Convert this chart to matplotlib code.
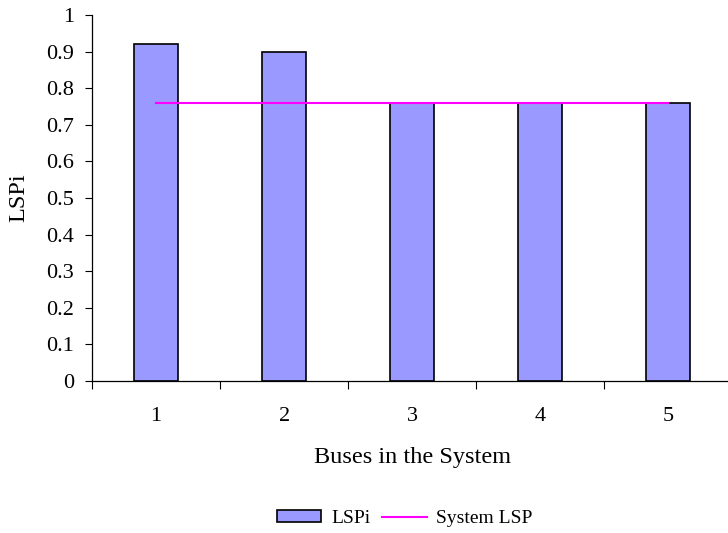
import matplotlib.pyplot as plt
from matplotlib.ticker import FixedLocator, NullFormatter

buses = [1, 2, 3, 4, 5]
lsp_i = [0.92, 0.90, 0.76, 0.76, 0.76]
system_lsp = [0.76, 0.76, 0.76, 0.76, 0.76]
y_ticks = [0, 0.1, 0.2, 0.3, 0.4, 0.5, 0.6, 0.7, 0.8, 0.9, 1]

plt.rcParams["font.family"] = ["Liberation Serif", "DejaVu Serif"]
plt.rcParams["font.size"] = 16

fig = plt.figure(figsize=(7.28, 5.33), dpi=100)
ax = fig.add_axes([0.1264, 0.2852, 0.8795, 0.6867])

bars = ax.bar(buses, lsp_i, width=0.345, color="#9999FF", edgecolor="black",
              linewidth=1.2, label="LSPi", zorder=2)
line, = ax.plot(buses, system_lsp, color="#FF00FF", linewidth=1.5,
                label="System LSP", zorder=3)

ax.set_xlim(0.5, 5.5)
ax.set_ylim(0, 1)
ax.set_yticks(y_ticks)
ax.set_yticklabels([f"{v:g}" for v in y_ticks])

# category boundaries carry the tick marks, labels sit between them
ax.xaxis.set_major_locator(FixedLocator([0.5, 1.5, 2.5, 3.5, 4.5, 5.5]))
ax.xaxis.set_major_formatter(NullFormatter())
ax.xaxis.set_minor_locator(FixedLocator(buses))
ax.set_xticklabels([str(b) for b in buses], minor=True)
ax.tick_params(axis="x", which="major", direction="out", length=6, width=0.8)
ax.tick_params(axis="x", which="minor", length=0, pad=19)
ax.tick_params(axis="y", direction="out", length=5, width=0.8, pad=8)

for side in ["top", "right"]:
    ax.spines[side].set_visible(False)
for side in ["left", "bottom"]:
    ax.spines[side].set_linewidth(0.9)

ax.set_ylabel("LSPi", fontsize=17.5, labelpad=12)
ax.set_xlabel("Buses in the System", fontsize=17.5, labelpad=15)

ax.legend([bars, line], ["LSPi", "System LSP"], loc="center",
          bbox_to_anchor=(0.556, 0.027), bbox_transform=fig.transFigure,
          ncol=2, frameon=False, fontsize=14, handlelength=2.3,
          handleheight=0.6, handletextpad=0.5, columnspacing=0.6)

fig.savefig("out.png", dpi=100)
